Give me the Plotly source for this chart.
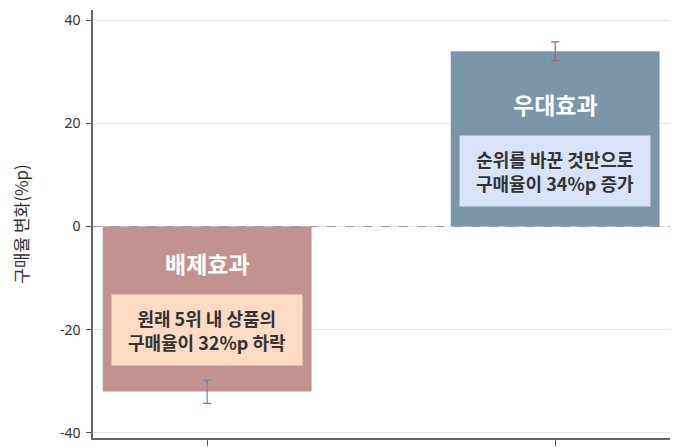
import plotly.graph_objects as go

categories = ["배제효과", "우대효과"]
values = [-32, 34]
err_plus = [2.2, 1.8]
err_minus = [2.3, 1.8]
bar_colors = ["#c29293", "#7b96a9"]
err_colors = ["#6a86a4", "#a0606e"]
box_texts = ["원래 5위 내 상품의<br>구매율이 32%p 하락",
             "순위를 바꾼 것만으로<br>구매율이 34%p 증가"]
box_colors = ["#fddbc2", "#d9e2f6"]
title_y = [-7.0, 23.7]
box_y = [-20, 10.7]
ytick_vals = [-40, -20, 0, 20, 40]
ytick_text = ["-40", "-20", "0", "20", "40"]

FONT = "Noto Sans CJK KR"

fig = go.Figure()

# Bars, each with its own error-bar colour
for i, cat in enumerate(categories):
    fig.add_trace(
        go.Bar(
            x=[i],
            y=[values[i]],
            width=0.6,
            marker=dict(color=bar_colors[i], line=dict(width=0)),
            error_y=dict(
                type="data",
                symmetric=False,
                array=[err_plus[i]],
                arrayminus=[err_minus[i]],
                color=err_colors[i],
                thickness=1.2,
                width=4,
            ),
            showlegend=False,
        )
    )

# Zero line
fig.add_hline(y=0, line=dict(color="#999999", width=1, dash="dash"))

# Labels and boxes
for i, cat in enumerate(categories):
    fig.add_annotation(
        x=i, y=title_y[i], text="<b>" + cat + "</b>", showarrow=False,
        font=dict(family=FONT, size=23, color="white"),
    )
    fig.add_annotation(
        x=i, y=box_y[i], text="<b>" + box_texts[i] + "</b>", showarrow=False,
        font=dict(family=FONT, size=18, color="#333333"),
        bgcolor=box_colors[i], width=188, height=68, align="center",
    )

# page body has an 8px margin, so margins are shifted to compensate
fig.update_layout(
    width=700,
    height=447,
    margin=dict(l=85, r=38, t=2, b=17, autoexpand=False),
    plot_bgcolor="white",
    paper_bgcolor="white",
    font=dict(family=FONT, color="#333333"),
    barmode="overlay",
    xaxis=dict(
        range=[-0.328, 1.33],
        tickvals=[0, 1],
        ticktext=["", ""],
        ticks="outside",
        ticklen=6,
        tickcolor="#555555",
        showgrid=False,
        showline=True,
        linecolor="#666666",
        linewidth=1.5,
        zeroline=False,
        automargin=False,
    ),
    yaxis=dict(
        range=[-41, 42],
        tickvals=ytick_vals,
        ticktext=ytick_text,
        ticks="outside",
        ticklen=5,
        tickcolor="#555555",
        tickfont=dict(family="Noto Sans", size=14, color="#333333"),
        ticklabelstandoff=3,
        showgrid=True,
        gridcolor="#e6e6e6",
        gridwidth=1,
        showline=True,
        linecolor="#666666",
        linewidth=1.5,
        zeroline=False,
        automargin=False,
        title=dict(text="구매율 변화(%p)", font=dict(size=17, color="#333333"), standoff=35),
    ),
)

fig.write_html("out.html")
